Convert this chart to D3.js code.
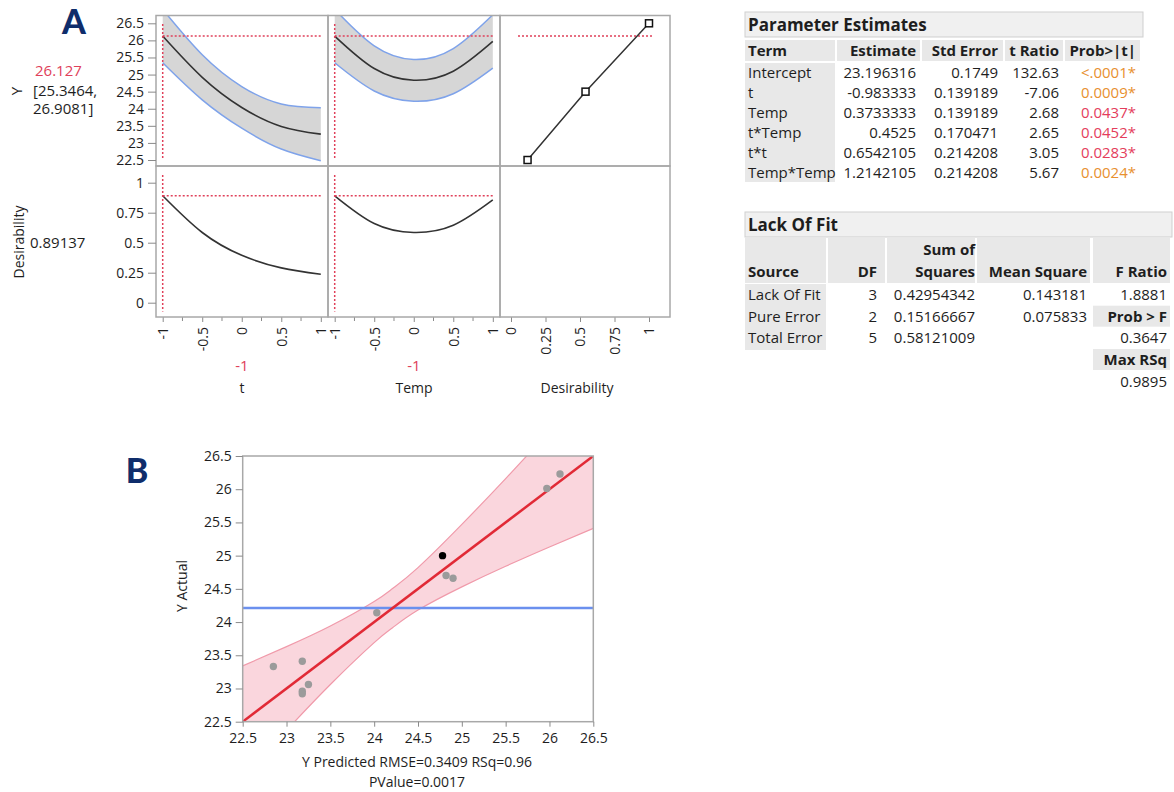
<!DOCTYPE html>
<html>
<head>
<meta charset="utf-8">
<script src="https://cdn.jsdelivr.net/npm/d3@7"></script>
<style>
  body { margin: 0; background: #fff; }
  svg { display: block; font-family: "Open Sans", sans-serif; }
</style>
</head>
<body>
<svg id="chart" width="1174" height="792"></svg>
<script>
// ---- A: prediction profiler (t and Temp set to -1) ----
const factorTicks = [-1, -0.5, 0, 0.5, 1];
const factorMinor = [-0.75, -0.25, 0.25, 0.75];
const yTicks = [22.5, 23, 23.5, 24, 24.5, 25, 25.5, 26, 26.5];
const desTicks = [0, 0.25, 0.5, 0.75, 1];
const profX = [-1, -0.5, 0, 0.5, 1];

const predVsT = [26.127, 24.919, 24.037, 23.483, 23.256];
const upperVsT = [26.908, 25.58, 24.65, 24.14, 24.03];
const lowerVsT = [25.346, 24.26, 23.43, 22.82, 22.48];
const desVsT = [0.891, 0.585, 0.395, 0.29, 0.237];

const predVsTemp = [26.127, 25.177, 24.834, 25.098, 25.969];
const upperVsTemp = [26.908, 25.84, 25.44, 25.76, 26.75];
const lowerVsTemp = [25.346, 24.52, 24.22, 24.44, 25.19];
const desVsTemp = [0.891, 0.66, 0.585, 0.645, 0.856];

// desirability function of Y
const desFnY = [22.5, 24.5, 26.5];
const desFnD = [0.12, 0.54, 1.0];

const currentT = -1, currentTemp = -1;
const currentY = 26.127, currentCI = "[25.3464,", currentCI2 = "26.9081]";
const currentD = 0.89137;

// ---- tables ----
const peTerms = ["Intercept", "t", "Temp", "t*Temp", "t*t", "Temp*Temp"];
const peEstimate = ["23.196316", "-0.983333", "0.3733333", "0.4525", "0.6542105", "1.2142105"];
const peStdErr = ["0.1749", "0.139189", "0.139189", "0.170471", "0.214208", "0.214208"];
const peTRatio = ["132.63", "-7.06", "2.68", "2.65", "3.05", "5.67"];
const peProb = ["<.0001*", "0.0009*", "0.0437*", "0.0452*", "0.0283*", "0.0024*"];
const peProbVal = [0.0001, 0.0009, 0.0437, 0.0452, 0.0283, 0.0024];

const lofSource = ["Lack Of Fit", "Pure Error", "Total Error"];
const lofDF = ["3", "2", "5"];
const lofSS = ["0.42954342", "0.15166667", "0.58121009"];
const lofMS = ["0.143181", "0.075833", ""];
const lofFCol = [["1.8881", false], ["Prob > F", true], ["0.3647", false], ["Max RSq", true], ["0.9895", false]];

// ---- B: actual by predicted ----
const predicted = [22.85, 23.18, 23.25, 23.18, 23.18, 24.03, 24.78, 24.82, 24.90, 25.97, 26.12];
const actual = [23.33, 23.41, 23.06, 22.96, 22.92, 24.14, 25.00, 24.70, 24.66, 26.01, 26.23];
const selected = [false, false, false, false, false, false, true, false, false, false, false];
const meanY = 24.21;
const fitX = [22.5, 26.5];
const fitY = [22.5, 26.5];
const bandX = [22.5, 23, 23.5, 24, 24.21, 24.5, 25, 25.5, 26, 26.5];
const bandUpper = [23.34, 23.63, 23.94, 24.31, 24.505, 24.82, 25.47, 26.16, 26.87, 27.59];
const bandLower = [21.66, 22.37, 23.06, 23.69, 23.915, 24.18, 24.53, 24.84, 25.13, 25.41];
const bTicks = [22.5, 23, 23.5, 24, 24.5, 25, 25.5, 26, 26.5];

const ink = "#1e1e1e";
const frameCol = "#a8a8a8";
const red = "#e0405a";
const font = "'Open Sans', sans-serif";

const svg = d3.select("#chart");
svg.append("rect").attr("width", 1174).attr("height", 792).attr("fill", "#fff");

function clipRect(id, x0, y0, x1, y1) {
  svg.append("clipPath").attr("id", id)
    .append("rect").attr("x", x0).attr("y", y0).attr("width", x1 - x0).attr("height", y1 - y0);
}

function styleAxis(g, size) {
  g.attr("font-family", font).attr("font-size", size || 14);
  g.select(".domain").remove();
  g.selectAll(".tick line").attr("stroke", "#8a8a8a");
  g.selectAll(".tick text").attr("fill", ink);
}

// panel letters
svg.append("text").attr("x", 74).attr("y", 34).attr("text-anchor", "middle")
  .attr("font-family", "Lato, sans-serif").attr("font-weight", 900).attr("font-size", 34)
  .attr("fill", "#0f2d6b").text("A");
svg.append("text").attr("x", 137).attr("y", 483).attr("text-anchor", "middle")
  .attr("font-family", "Lato, sans-serif").attr("font-weight", 900).attr("font-size", 34)
  .attr("fill", "#0f2d6b").text("B");

// ---------- profiler ----------
const colL = [156, 328, 500], colR = [328, 500, 670];
const rowT = [15.5, 166], rowB = [166, 317];

const xFactor = [0, 1].map(i => d3.scaleLinear().domain([-1, 1]).range([colL[i] + 6.7, colR[i] - 7.2]));
const xDes = d3.scaleLinear().domain([0, 1]).range([511, 649]);
const yPred = d3.scaleLinear().domain([22.5, 26.5]).range([160, 23.3]);
const yDes = d3.scaleLinear().domain([0, 1]).range([302.7, 182.7]);

for (let r = 0; r < 2; r++) {
  for (let c = 0; c < 3; c++) {
    clipRect(`cell${r}${c}`, colL[c], rowT[r], colR[c], rowB[r]);
  }
}

const profiles = [
  { pred: predVsT, up: upperVsT, lo: lowerVsT, des: desVsT, cur: currentT },
  { pred: predVsTemp, up: upperVsTemp, lo: lowerVsTemp, des: desVsTemp, cur: currentTemp }
];

profiles.forEach((p, c) => {
  const x = xFactor[c];
  const top = svg.append("g").attr("clip-path", `url(#cell0${c})`);
  top.append("path").datum(profX)
    .attr("d", d3.area().x((d, i) => x(d)).y0((d, i) => yPred(p.lo[i])).y1((d, i) => yPred(p.up[i])).curve(d3.curveNatural))
    .attr("fill", "#d6d6d6");
  [p.up, p.lo].forEach(arr => {
    top.append("path").datum(profX)
      .attr("d", d3.line().x(d => x(d)).y((d, i) => yPred(arr[i])).curve(d3.curveNatural))
      .attr("fill", "none").attr("stroke", "#7fa3ea").attr("stroke-width", 1.5);
  });
  top.append("path").datum(profX)
    .attr("d", d3.line().x(d => x(d)).y((d, i) => yPred(p.pred[i])).curve(d3.curveNatural))
    .attr("fill", "none").attr("stroke", "#333").attr("stroke-width", 1.6);
  // current value crosshair
  top.append("line").attr("x1", x(p.cur)).attr("x2", x(p.cur)).attr("y1", rowT[0] + 8.5).attr("y2", rowB[0] - 6)
    .attr("stroke", red).attr("stroke-width", 1.5).attr("stroke-dasharray", "2,2");
  top.append("line").attr("x1", x(-1)).attr("x2", x(1)).attr("y1", yPred(currentY)).attr("y2", yPred(currentY))
    .attr("stroke", red).attr("stroke-width", 1.5).attr("stroke-dasharray", "2,2");

  const bot = svg.append("g").attr("clip-path", `url(#cell1${c})`);
  bot.append("path").datum(profX)
    .attr("d", d3.line().x(d => x(d)).y((d, i) => yDes(p.des[i])).curve(d3.curveNatural))
    .attr("fill", "none").attr("stroke", "#333").attr("stroke-width", 1.6);
  bot.append("line").attr("x1", x(p.cur)).attr("x2", x(p.cur)).attr("y1", rowT[1] + 9).attr("y2", rowB[1] - 5.5)
    .attr("stroke", red).attr("stroke-width", 1.5).attr("stroke-dasharray", "2,2");
  bot.append("line").attr("x1", x(-1)).attr("x2", x(1)).attr("y1", yDes(currentD)).attr("y2", yDes(currentD))
    .attr("stroke", red).attr("stroke-width", 1.5).attr("stroke-dasharray", "2,2");

  // bottom axis with rotated labels
  const ax = svg.append("g").attr("transform", `translate(0,${rowB[1]})`)
    .call(d3.axisBottom(x).tickValues(factorTicks).tickSize(5).tickFormat(d => String(d)));
  styleAxis(ax);
  ax.selectAll(".tick text").attr("y", 0).attr("x", -10).attr("dy", "0.35em")
    .attr("transform", "rotate(-90)").attr("text-anchor", "end");
  svg.append("g").attr("transform", `translate(0,${rowB[1]})`)
    .selectAll("line").data(factorMinor).join("line")
    .attr("x1", d => x(d)).attr("x2", d => x(d)).attr("y1", 0).attr("y2", 4)
    .attr("stroke", "#8a8a8a");
});

// desirability function cell
const desCell = svg.append("g").attr("clip-path", "url(#cell02)");
desCell.append("line").attr("x1", 518).attr("x2", 653).attr("y1", yPred(currentY)).attr("y2", yPred(currentY))
  .attr("stroke", red).attr("stroke-width", 1.5).attr("stroke-dasharray", "2,2");
desCell.append("path").datum(desFnY)
  .attr("d", d3.line().x((d, i) => xDes(desFnD[i])).y(d => yPred(d)))
  .attr("fill", "none").attr("stroke", "#333").attr("stroke-width", 1.5);
desCell.selectAll("rect.mk").data(desFnY).join("rect").attr("class", "mk")
  .attr("x", (d, i) => xDes(desFnD[i]) - 3.5).attr("y", d => yPred(d) - 3.5)
  .attr("width", 7).attr("height", 7).attr("fill", "#fff").attr("stroke", "#111").attr("stroke-width", 1.5);

const axD = svg.append("g").attr("transform", `translate(0,${rowB[1]})`)
  .call(d3.axisBottom(xDes).tickValues(desTicks).tickSize(5).tickFormat(d => String(d)));
styleAxis(axD);
axD.selectAll(".tick text").attr("y", 0).attr("x", -10).attr("dy", "0.35em")
  .attr("transform", "rotate(-90)").attr("text-anchor", "end");

// frames
for (let r = 0; r < 2; r++) {
  for (let c = 0; c < 3; c++) {
    svg.append("rect").attr("x", colL[c]).attr("y", rowT[r])
      .attr("width", colR[c] - colL[c]).attr("height", rowB[r] - rowT[r])
      .attr("fill", "none").attr("stroke", frameCol).attr("stroke-width", 1.5);
  }
}

// left axes
const axY = svg.append("g").attr("transform", `translate(${colL[0]},0)`)
  .call(d3.axisLeft(yPred).tickValues(yTicks).tickSize(8).tickPadding(4).tickFormat(d => String(d)));
styleAxis(axY);
const axYD = svg.append("g").attr("transform", `translate(${colL[0]},0)`)
  .call(d3.axisLeft(yDes).tickValues(desTicks).tickSize(8).tickPadding(4).tickFormat(d => String(d)));
styleAxis(axYD);

// side labels
svg.append("text").attr("x", 35).attr("y", 76).attr("font-size", 15).attr("fill", red).text(String(currentY));
svg.append("text").attr("transform", "translate(22,91) rotate(-90)").attr("text-anchor", "middle")
  .attr("font-size", 15).attr("fill", ink).text("Y");
svg.append("text").attr("x", 33).attr("y", 96).attr("font-size", 15).attr("fill", ink).text(currentCI);
svg.append("text").attr("x", 33).attr("y", 114).attr("font-size", 15).attr("fill", ink).text(currentCI2);
svg.append("text").attr("transform", "translate(24,242) rotate(-90)").attr("text-anchor", "middle")
  .attr("font-size", 14).attr("fill", ink).text("Desirability");
svg.append("text").attr("x", 30).attr("y", 248).attr("font-size", 15).attr("fill", ink).text(String(currentD));

// factor names and current settings
[currentT, currentTemp].forEach((v, c) => {
  svg.append("text").attr("x", (colL[c] + colR[c]) / 2).attr("y", 371).attr("text-anchor", "middle")
    .attr("font-size", 15).attr("fill", red).text(String(v));
});
["t", "Temp", "Desirability"].forEach((name, c) => {
  svg.append("text").attr("x", c === 2 ? 577 : (colL[c] + colR[c]) / 2).attr("y", 393).attr("text-anchor", "middle")
    .attr("font-size", 14).attr("fill", ink).text(name);
});

// ---------- Parameter Estimates table ----------
const tb = svg.append("g").attr("font-size", 15).attr("fill", ink);
tb.append("rect").attr("x", 745).attr("y", 12).attr("width", 398).attr("height", 25)
  .attr("fill", "#f0f0f0").attr("stroke", "#cfcfcf");
tb.append("text").attr("x", 748).attr("y", 31).attr("font-size", 17).attr("font-weight", 700).text("Parameter Estimates");

const peCols = [
  { head: "Term", x0: 745, x1: 835, anchor: "start", tx: 748, vals: peTerms },
  { head: "Estimate", x0: 837, x1: 920, anchor: "end", tx: 916, vals: peEstimate },
  { head: "Std Error", x0: 922, x1: 1003, anchor: "end", tx: 998, vals: peStdErr },
  { head: "t Ratio", x0: 1005, x1: 1063, anchor: "end", tx: 1059, vals: peTRatio },
  { head: "Prob>|t|", x0: 1065, x1: 1140, anchor: "end", tx: 1136, vals: peProb }
];
peCols.forEach(col => {
  tb.append("rect").attr("x", col.x0).attr("y", 40).attr("width", col.x1 - col.x0).attr("height", 21).attr("fill", "#e8e8e8");
  tb.append("text").attr("x", col.tx).attr("y", 56).attr("text-anchor", col.anchor).attr("font-weight", 700).text(col.head);
});
tb.append("rect").attr("x", 745).attr("y", 63).attr("width", 90).attr("height", 119).attr("fill", "#e8e8e8");
peCols.forEach((col, ci) => {
  tb.selectAll(null).data(col.vals).join("text")
    .attr("x", col.tx).attr("y", (d, i) => 78 + i * 19.9)
    .attr("text-anchor", col.anchor)
    .attr("fill", (d, i) => ci === 4 ? (peProbVal[i] < 0.01 ? "#e8902f" : "#e43d5c") : ink)
    .text(d => d);
});

// ---------- Lack Of Fit table ----------
const lf = svg.append("g").attr("font-size", 15).attr("fill", ink);
lf.append("rect").attr("x", 745).attr("y", 212).attr("width", 427).attr("height", 25)
  .attr("fill", "#f0f0f0").attr("stroke", "#cfcfcf");
lf.append("text").attr("x", 748).attr("y", 231).attr("font-size", 17).attr("font-weight", 700).text("Lack Of Fit");

const lfCols = [
  { head: ["", "Source"], x0: 745, x1: 826, anchor: "start", tx: 748, vals: lofSource },
  { head: ["", "DF"], x0: 828, x1: 885, anchor: "end", tx: 877, vals: lofDF },
  { head: ["Sum of", "Squares"], x0: 887, x1: 975, anchor: "end", tx: 975, vals: lofSS },
  { head: ["", "Mean Square"], x0: 977, x1: 1090, anchor: "end", tx: 1087, vals: lofMS },
  { head: ["", "F Ratio"], x0: 1093, x1: 1170, anchor: "end", tx: 1167, vals: [] }
];
const lfRowY = [300, 321.7, 343.3, 365, 386.7];
lfCols.forEach(col => {
  lf.append("rect").attr("x", col.x0).attr("y", 238).attr("width", col.x1 - col.x0).attr("height", 45).attr("fill", "#e8e8e8");
  lf.append("text").attr("x", col.tx).attr("y", 255).attr("text-anchor", col.anchor).attr("font-weight", 700).text(col.head[0]);
  lf.append("text").attr("x", col.tx).attr("y", 277).attr("text-anchor", col.anchor).attr("font-weight", 700).text(col.head[1]);
});
lf.append("rect").attr("x", 745).attr("y", 284).attr("width", 81).attr("height", 66).attr("fill", "#e8e8e8");
lfCols.slice(0, 4).forEach(col => {
  lf.selectAll(null).data(col.vals).join("text")
    .attr("x", col.tx).attr("y", (d, i) => lfRowY[i]).attr("text-anchor", col.anchor).text(d => d);
});
lofFCol.forEach(([txt, bold], i) => {
  if (bold) {
    lf.append("rect").attr("x", 1093).attr("y", lfRowY[i] - 16).attr("width", 77).attr("height", 21).attr("fill", "#e8e8e8");
  }
  lf.append("text").attr("x", 1167).attr("y", lfRowY[i]).attr("text-anchor", "end")
    .attr("font-weight", bold ? 700 : 400).text(txt);
});

// ---------- B: Actual by Predicted ----------
const bx0 = 242.7, bx1 = 593.3, by0 = 456, by1 = 721.7;
const xB = d3.scaleLinear().domain([22.5, 26.5]).range([bx0, bx1]);
const yB = d3.scaleLinear().domain([22.5, 26.5]).range([by1, by0]);
clipRect("clipB", bx0, by0, bx1, by1);
const gB = svg.append("g").attr("clip-path", "url(#clipB)");

gB.append("path").datum(bandX)
  .attr("d", d3.area().x(d => xB(d)).y0((d, i) => yB(bandLower[i])).y1((d, i) => yB(bandUpper[i])).curve(d3.curveNatural))
  .attr("fill", "#fad6dd");
[bandUpper, bandLower].forEach(arr => {
  gB.append("path").datum(bandX)
    .attr("d", d3.line().x(d => xB(d)).y((d, i) => yB(arr[i])).curve(d3.curveNatural))
    .attr("fill", "none").attr("stroke", "#f09aaa").attr("stroke-width", 1.2);
});
gB.append("line").attr("x1", bx0).attr("x2", bx1).attr("y1", yB(meanY)).attr("y2", yB(meanY))
  .attr("stroke", "#6b90ee").attr("stroke-width", 2.5);
gB.append("line").attr("x1", xB(fitX[0])).attr("x2", xB(fitX[1])).attr("y1", yB(fitY[0])).attr("y2", yB(fitY[1]))
  .attr("stroke", "#e12a36").attr("stroke-width", 2.5);
gB.selectAll("circle").data(predicted).join("circle")
  .attr("cx", d => xB(d)).attr("cy", (d, i) => yB(actual[i])).attr("r", 3.7)
  .attr("fill", (d, i) => selected[i] ? "#000" : "#9b9b9b");

svg.append("rect").attr("x", bx0).attr("y", by0).attr("width", bx1 - bx0).attr("height", by1 - by0)
  .attr("fill", "none").attr("stroke", frameCol).attr("stroke-width", 1.5);

const axBL = svg.append("g").attr("transform", `translate(${bx0},0)`)
  .call(d3.axisLeft(yB).tickValues(bTicks).tickSize(7).tickPadding(4).tickFormat(d => String(d)));
styleAxis(axBL);
const axBB = svg.append("g").attr("transform", `translate(0,${by1})`)
  .call(d3.axisBottom(xB).tickValues(bTicks).tickSize(5).tickPadding(6).tickFormat(d => String(d)));
styleAxis(axBB);

svg.append("text").attr("transform", "translate(187,586) rotate(-90)").attr("text-anchor", "middle")
  .attr("font-size", 14).attr("fill", ink).text("Y Actual");
svg.append("text").attr("x", 417).attr("y", 767).attr("text-anchor", "middle")
  .attr("font-size", 14).attr("fill", ink).text("Y Predicted RMSE=0.3409 RSq=0.96");
svg.append("text").attr("x", 417).attr("y", 787).attr("text-anchor", "middle")
  .attr("font-size", 14).attr("fill", ink).text("PValue=0.0017");
</script>
</body>
</html>
